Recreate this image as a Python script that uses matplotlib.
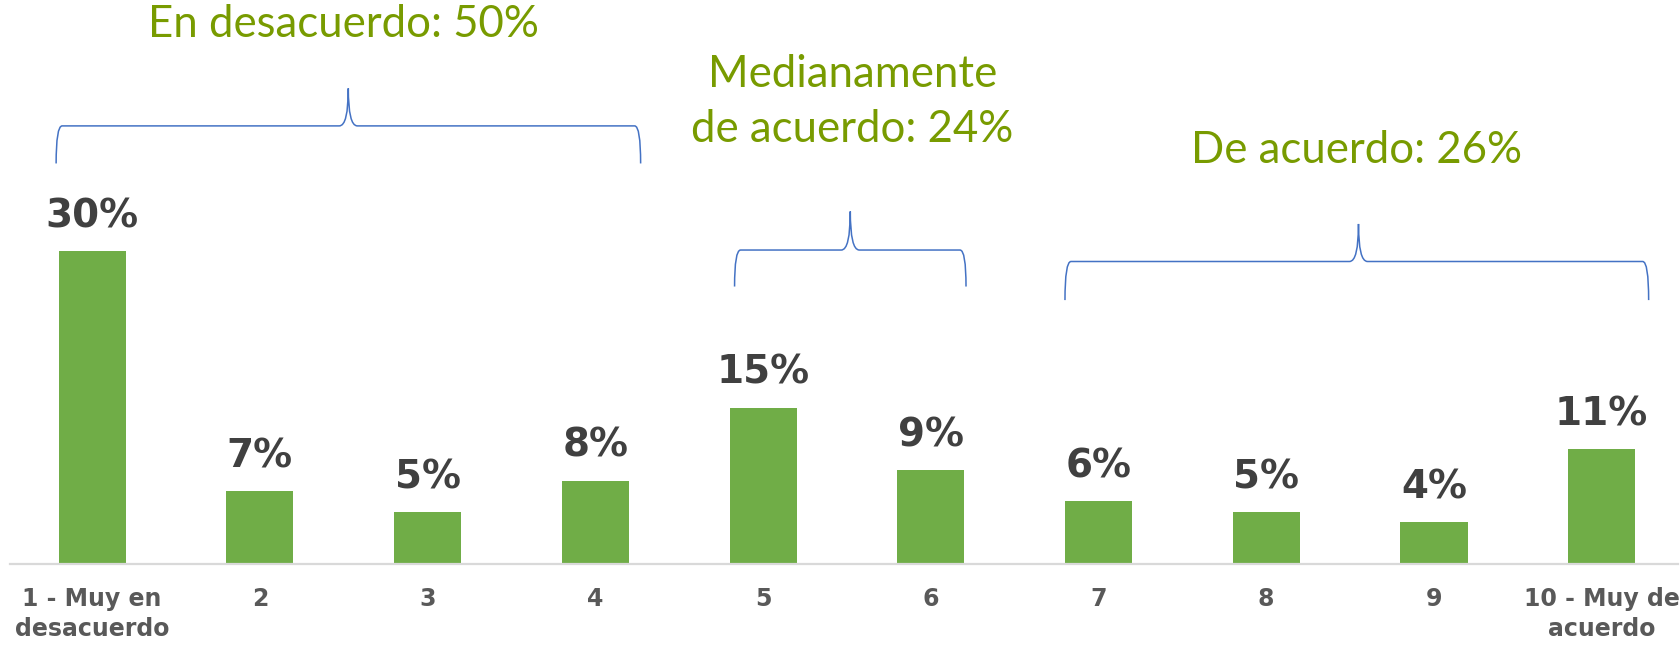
import matplotlib
matplotlib.use("Agg")
import matplotlib.pyplot as plt
from matplotlib.path import Path
from matplotlib.patches import PathPatch

categories = ["1 - Muy en\ndesacuerdo", "2", "3", "4", "5", "6", "7", "8", "9", "10 - Muy de\nacuerdo"]
values = [30, 7, 5, 8, 15, 9, 6, 5, 4, 11]
value_labels = ["30%", "7%", "5%", "8%", "15%", "9%", "6%", "5%", "4%", "11%"]

group_texts = ["En desacuerdo: 50%", "Medianamente\nde acuerdo: 24%", "De acuerdo: 26%"]

BAR = "#70AD47"
TXT_GREEN = "#789B00"
BRACE = "#4472C4"
DARK = "#404040"
TICK = "#595959"

fig = plt.figure(figsize=(16.81, 6.45), dpi=100)
ax = fig.add_axes([10 / 1681, 81 / 645, 1668 / 1681, 564 / 645])
x = list(range(len(values)))
ax.bar(x, values, width=0.40, color=BAR, zorder=2)
ax.set_xlim(-0.49, 9.455)
ax.set_ylim(0, 54.07)

for s in ["top", "right", "left"]:
    ax.spines[s].set_visible(False)
ax.spines["bottom"].set_color("#D9D9D9")
ax.spines["bottom"].set_linewidth(1.6)
ax.set_yticks([])
ax.set_xticks(x)
ax.set_xticklabels(categories, fontsize=17, fontweight="bold", color=TICK, linespacing=1.3)
ax.tick_params(axis="x", length=0, pad=16.5)

for xi, v, lab in zip(x, values, value_labels):
    ax.annotate(lab, (xi, v), xytext=(0, 17), textcoords="offset points",
                ha="center", va="baseline", fontsize=28, fontweight="bold", color=DARK)

# pixel scale of the data units
xu = 167.7
yu = 10.43


def brace(x0, x1, xt, yh, yb, ytip):
    dx = 6 / xu
    dt = 9 / xu
    verts = [(x0, yb), (x0, yh), (x0 + dx, yh),
             (xt - dt, yh), (xt, yh), (xt, ytip),
             (xt, yh), (xt + dt, yh),
             (x1 - dx, yh), (x1, yh), (x1, yb)]
    codes = [Path.MOVETO, Path.CURVE3, Path.CURVE3,
             Path.LINETO, Path.CURVE3, Path.CURVE3,
             Path.CURVE3, Path.CURVE3,
             Path.LINETO, Path.CURVE3, Path.CURVE3]
    ax.add_patch(PathPatch(Path(verts, codes), fill=False, edgecolor=BRACE,
                           linewidth=1.1, clip_on=False))


brace(-0.215, 3.27, 1.527, 42.0, 38.4, 45.6)
brace(3.83, 5.21, 4.52, 30.1, 26.6, 33.8)
brace(5.80, 9.28, 7.55, 29.0, 25.3, 32.6)

tfont = dict(fontsize=31.5, color=TXT_GREEN, family="Lato", ha="center", va="baseline")
ax.text(1.497, 50.53, group_texts[0], **tfont)
l1, l2 = group_texts[1].split("\n")
ax.text(4.532, 45.73, l1, **tfont)
ax.text(4.532, 40.46, l2, **tfont)
ax.text(7.537, 38.45, group_texts[2], **tfont)

fig.savefig("out.png", dpi=100)
